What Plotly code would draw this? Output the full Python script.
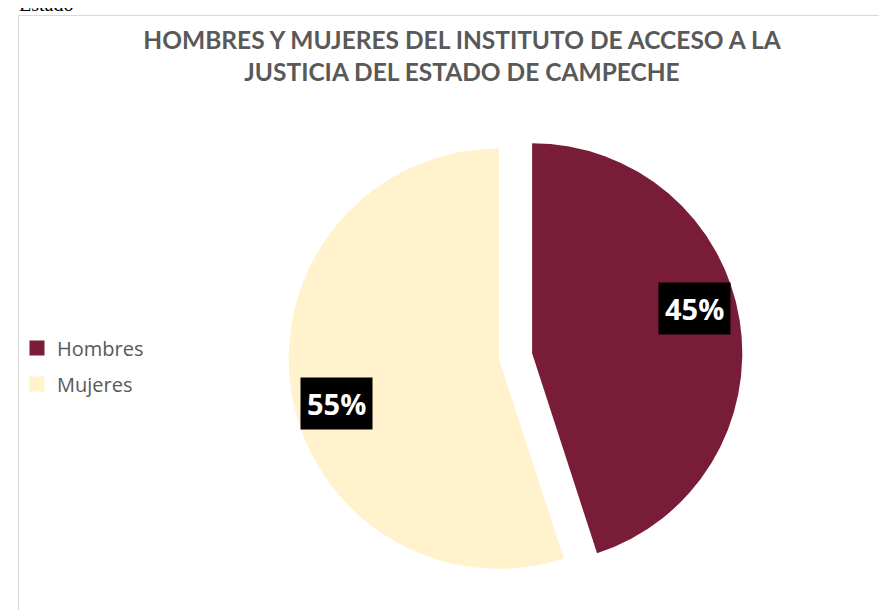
import math
import plotly.graph_objects as go

labels = ["Hombres", "Mujeres"]
values = [45, 55]
colors = ["#781C37", "#FFF2CC"]
title_text = "HOMBRES Y MUJERES DEL INSTITUTO DE ACCESO A LA<br>JUSTICIA DEL ESTADO DE CAMPECHE"

W, H = 887, 610
pull = 0.08
# pie box in pixels
cx, cy, half = 507.5, 348.0, 227.0
dom_x = [(cx - half) / W, (cx + half) / W]
dom_y = [1 - (cy + half) / H, 1 - (cy - half) / H]
r = half / (1 + pull)

fig = go.Figure()
fig.add_trace(go.Pie(
    labels=labels, values=values, sort=False, direction="clockwise", rotation=0,
    marker=dict(colors=colors, line=dict(width=0)),
    pull=[pull] * len(values), textinfo="none", hoverinfo="label+percent",
    domain=dict(x=dom_x, y=dom_y), showlegend=False,
))

for lab, col in zip(labels, colors):
    fig.add_trace(go.Scatter(
        x=[None], y=[None], mode="markers", name=lab,
        marker=dict(symbol="square", size=15, color=col),
        legendgroup=lab, showlegend=True,
    ))

annotations = []
total = sum(values)
cum = 0
for lab, v in zip(labels, values):
    frac = v / total
    mid = (cum + frac / 2) * 2 * math.pi
    cum += frac
    ax = cx + pull * r * math.sin(mid)
    ay = cy - pull * r * math.cos(mid)
    la = mid - math.radians(6.5)
    lx = ax + 0.8 * r * math.sin(la)
    ly = ay - 0.8 * r * math.cos(la)
    annotations.append(dict(
        x=lx / W, y=1 - ly / H, xref="paper", yref="paper", showarrow=False,
        text="<b>%d%%</b>" % round(frac * 100),
        font=dict(family="Open Sans", size=29, color="white"),
        bgcolor="black", borderpad=6, xanchor="center", yanchor="middle",
    ))

annotations.append(dict(
    x=10 / W, y=1 - 8 / H, xref="paper", yref="paper", showarrow=False,
    text="Estado", font=dict(family="Liberation Serif", size=20, color="black"),
    xanchor="left", yanchor="bottom", borderpad=0,
))

fig.update_layout(
    width=W, height=H,
    margin=dict(l=0, r=0, t=0, b=0),
    paper_bgcolor="white", plot_bgcolor="white",
    xaxis=dict(visible=False), yaxis=dict(visible=False),
    title=dict(text="<b>" + title_text + "</b>", x=454 / W, xanchor="center",
               y=1 - 41 / H, yanchor="top",
               font=dict(family="Lato", size=24.5, color="#595959")),
    legend=dict(x=9 / W, y=1 - 358 / H, xanchor="left", yanchor="middle",
                bgcolor="rgba(0,0,0,0)",
                font=dict(family="Open Sans", size=20, color="#595959"),
                itemsizing="trace", tracegroupgap=7),
    annotations=annotations,
    shapes=[dict(type="rect", xref="paper", yref="paper",
                 x0=10.5 / W, x1=1.01, y0=-0.01, y1=1 - 7.5 / H,
                 line=dict(color="#D9D9D9", width=1))],
)

fig.write_html("out.html")
